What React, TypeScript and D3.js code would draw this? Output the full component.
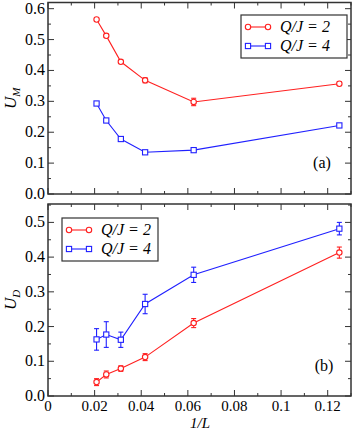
import React, { useEffect, useRef } from 'react';
import * as d3 from 'd3';

// 1/L for L = 48, 40, 32, 24, 16, 8
const invL = [1 / 48, 1 / 40, 1 / 32, 1 / 24, 1 / 16, 1 / 8];

const umQ2 = [0.565, 0.512, 0.428, 0.368, 0.298, 0.357];
const umQ2Err = [0.004, 0.005, 0.005, 0.008, 0.012, 0.006];
const umQ4 = [0.293, 0.238, 0.178, 0.135, 0.142, 0.222];
const umQ4Err = [0.003, 0.003, 0.004, 0.003, 0.003, 0.003];

const udQ2 = [0.040, 0.062, 0.079, 0.112, 0.210, 0.413];
const udQ2Err = [0.010, 0.010, 0.008, 0.010, 0.013, 0.016];
const udQ4 = [0.163, 0.177, 0.162, 0.265, 0.349, 0.482];
const udQ4Err = [0.031, 0.037, 0.022, 0.028, 0.022, 0.018];

const xTicks = [0, 0.02, 0.04, 0.06, 0.08, 0.1, 0.12];
const umTicks = [0, 0.1, 0.2, 0.3, 0.4, 0.5, 0.6];
const udTicks = [0, 0.1, 0.2, 0.3, 0.4, 0.5];
const legendLabels = ['Q/J = 2', 'Q/J = 4'];

const RED = '#ff2020';
const BLUE = '#2020ff';
const FONT = '"Liberation Serif", "DejaVu Serif", serif';

const App = () => {
  const ref = useRef<SVGSVGElement>(null);

  useEffect(() => {
    const svg = d3.select(ref.current);
    svg.selectAll('*').remove();

    const x = d3.scaleLinear().domain([0, 0.13]).range([48, 351]);

    const drawPanel = (
      y: d3.ScaleLinear<number, number>,
      yTicks: number[],
      series: { v: number[]; e: number[]; color: string; shape: string }[],
      showXLabels: boolean,
      sub: string,
      tag: string,
      tagPos: [number, number],
      legendPos: [number, number, number, number]
    ) => {
      const g = svg.append('g');
      const [x0, x1] = x.range();
      const [yb, yt] = y.range();

      // ticks, mirrored on all sides
      const tickStroke = '#333';
      d3.range(0, 0.1301, 0.01).forEach((t, i) => {
        const len = i % 2 === 0 ? 6 : 3;
        const px = x(t);
        g.append('line').attr('x1', px).attr('x2', px).attr('y1', yb).attr('y2', yb - len).attr('stroke', tickStroke);
        g.append('line').attr('x1', px).attr('x2', px).attr('y1', yt).attr('y2', yt + len).attr('stroke', tickStroke);
      });
      const yMax = y.domain()[1];
      d3.range(0, yMax + 1e-6, 0.05).forEach((t, i) => {
        const len = i % 2 === 0 ? 6 : 3;
        const py = y(t);
        g.append('line').attr('x1', x0).attr('x2', x0 + len).attr('y1', py).attr('y2', py).attr('stroke', tickStroke);
        g.append('line').attr('x1', x1).attr('x2', x1 - len).attr('y1', py).attr('y2', py).attr('stroke', tickStroke);
      });

      // frame
      g.append('rect')
        .attr('x', x0).attr('y', yt).attr('width', x1 - x0).attr('height', yb - yt)
        .attr('fill', 'none').attr('stroke', '#333').attr('stroke-width', 1.5);

      yTicks.forEach((t) => {
        g.append('text')
          .attr('x', x0 - 3).attr('y', y(t) + 5)
          .attr('text-anchor', 'end')
          .attr('font-family', FONT).attr('font-size', 16)
          .text(t.toFixed(1));
      });

      if (showXLabels) {
        xTicks.forEach((t) => {
          g.append('text')
            .attr('x', x(t)).attr('y', yb + 15)
            .attr('text-anchor', 'middle')
            .attr('font-family', FONT).attr('font-size', 15)
            .text(t === 0 ? '0' : String(t));
        });
        g.append('text')
          .attr('x', 200).attr('y', 428)
          .attr('text-anchor', 'middle')
          .attr('font-family', FONT).attr('font-size', 15).attr('font-style', 'italic')
          .text('1/L');
      }

      // y label
      const ly = (yb + yt) / 2;
      const yl = g.append('text')
        .attr('transform', `translate(16,${ly}) rotate(-90)`)
        .attr('text-anchor', 'middle')
        .attr('font-family', FONT).attr('font-size', 17).attr('font-style', 'italic');
      yl.append('tspan').text('U');
      yl.append('tspan').attr('font-size', 11).attr('dy', 4).text(sub);

      g.append('text')
        .attr('x', tagPos[0]).attr('y', tagPos[1])
        .attr('text-anchor', 'middle')
        .attr('font-family', FONT).attr('font-size', 16)
        .text(tag);

      const marker = (sel: d3.Selection<SVGGElement, unknown, null, undefined>, cx: number, cy: number, shape: string, color: string) => {
        if (shape === 'circle') {
          sel.append('circle').attr('cx', cx).attr('cy', cy).attr('r', 2.7)
            .attr('fill', 'white').attr('stroke', color).attr('stroke-width', 1.1);
        } else {
          sel.append('rect').attr('x', cx - 2.6).attr('y', cy - 2.6).attr('width', 5.2).attr('height', 5.2)
            .attr('fill', 'white').attr('stroke', color).attr('stroke-width', 1.1);
        }
      };

      const line = d3.line<number>().x((_, i) => x(invL[i])).y((d) => y(d));

      series.forEach((s) => {
        const sg = g.append('g');
        sg.append('path').attr('d', line(s.v)).attr('fill', 'none').attr('stroke', s.color).attr('stroke-width', 1.1);
        s.v.forEach((v, i) => {
          const px = x(invL[i]);
          const lo = y(v - s.e[i]);
          const hi = y(v + s.e[i]);
          sg.append('line').attr('x1', px).attr('x2', px).attr('y1', lo).attr('y2', hi).attr('stroke', s.color).attr('stroke-width', 1.1);
          sg.append('line').attr('x1', px - 2.5).attr('x2', px + 2.5).attr('y1', lo).attr('y2', lo).attr('stroke', s.color).attr('stroke-width', 1.1);
          sg.append('line').attr('x1', px - 2.5).attr('x2', px + 2.5).attr('y1', hi).attr('y2', hi).attr('stroke', s.color).attr('stroke-width', 1.1);
        });
        s.v.forEach((v, i) => marker(sg, x(invL[i]), y(v), s.shape, s.color));
      });

      // legend
      const [lx, ly0, lw, lh] = legendPos;
      g.append('rect').attr('x', lx).attr('y', ly0).attr('width', lw).attr('height', lh)
        .attr('fill', 'white').attr('stroke', '#333').attr('stroke-width', 1.2);
      series.forEach((s, i) => {
        const ey = ly0 + 12 + i * 19;
        const lg = g.append('g');
        lg.append('line').attr('x1', lx + 7).attr('x2', lx + 27).attr('y1', ey).attr('y2', ey).attr('stroke', s.color).attr('stroke-width', 1.1);
        marker(lg, lx + 7, ey, s.shape, s.color);
        marker(lg, lx + 27, ey, s.shape, s.color);
        lg.append('text')
          .attr('x', lx + 39).attr('y', ey + 5)
          .attr('font-family', FONT).attr('font-size', 16).attr('font-style', 'italic')
          .text(legendLabels[i]);
      });
    };

    const yTop = d3.scaleLinear().domain([0, 0.62]).range([194, 2.5]);
    drawPanel(
      yTop, umTicks,
      [
        { v: umQ2, e: umQ2Err, color: RED, shape: 'circle' },
        { v: umQ4, e: umQ4Err, color: BLUE, shape: 'square' },
      ],
      false, 'M', '(a)', [322, 168], [241, 15, 106, 43]
    );

    const yBot = d3.scaleLinear().domain([0, 0.553]).range([396, 204]);
    drawPanel(
      yBot, udTicks,
      [
        { v: udQ2, e: udQ2Err, color: RED, shape: 'circle' },
        { v: udQ4, e: udQ4Err, color: BLUE, shape: 'square' },
      ],
      true, 'D', '(b)', [324, 371], [62, 218, 96, 43]
    );
  }, []);

  return (
    <svg ref={ref} width={354} height={431} style={{ position: 'absolute', left: 0, top: 0, background: 'white' }} />
  );
};

export default App;
